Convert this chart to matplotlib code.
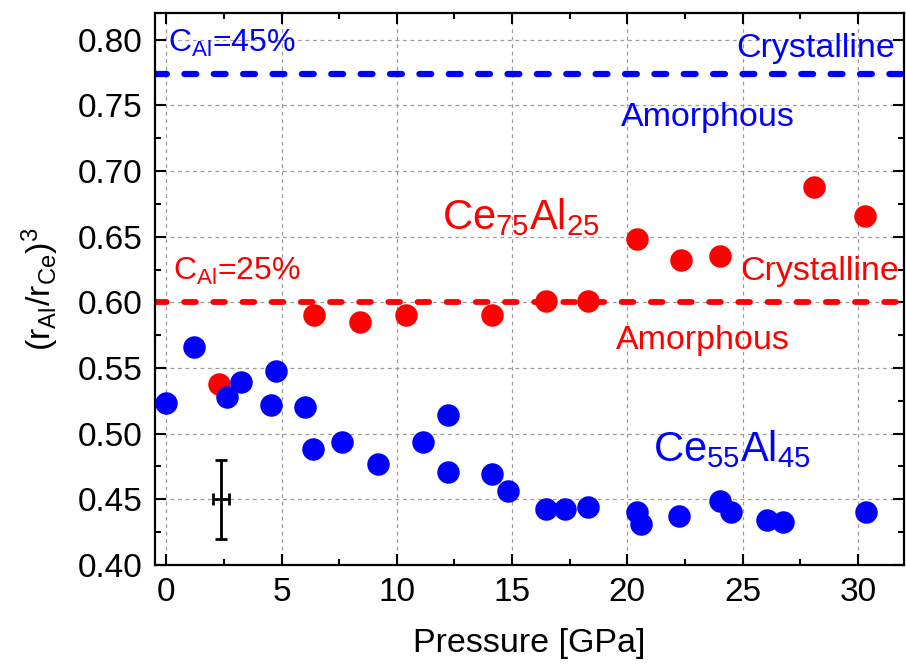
import numpy as np
import matplotlib.pyplot as plt

plt.rcParams['font.family'] = ['Liberation Sans', 'DejaVu Sans']
plt.rcParams['mathtext.fontset'] = 'custom'
plt.rcParams['mathtext.rm'] = 'Liberation Sans'
plt.rcParams['mathtext.it'] = 'Liberation Sans'

# Ce55Al45 (blue)
p_blue = [0.0, 1.21, 2.64, 3.26, 4.56, 4.75, 6.02, 6.35, 7.62, 9.20, 11.14, 12.24, 12.24,
          14.12, 14.83, 16.47, 17.28, 18.30, 20.40, 20.60, 22.23, 24.03, 24.49, 26.05,
          26.74, 30.35]
r_blue = [0.523, 0.566, 0.528, 0.539, 0.522, 0.548, 0.520, 0.488, 0.494, 0.477, 0.494,
          0.514, 0.471, 0.469, 0.456, 0.443, 0.443, 0.444, 0.440, 0.431, 0.437, 0.449,
          0.440, 0.434, 0.433, 0.440]

# Ce75Al25 (red)
p_red = [2.28, 6.40, 8.41, 10.39, 14.12, 16.47, 18.30, 20.41, 22.31, 24.00, 28.11, 30.31]
r_red = [0.538, 0.590, 0.585, 0.590, 0.590, 0.601, 0.601, 0.648, 0.632, 0.635, 0.688, 0.666]

# critical ratios
c_al45 = 0.7735
c_al25 = 0.600

# typical error bar
err_p, err_r = 2.38, 0.45
err_dp, err_dr = 0.36, 0.03

fig = plt.figure(figsize=(9.06, 6.71), dpi=100)
ax = fig.add_axes([0.1708, 0.158, 0.827, 0.822])

ax.grid(True, color='#9a9a9a', linestyle=(0, (3, 3)), linewidth=0.9, zorder=0)

ax.axhline(c_al45, color='#0000ff', lw=4.5, dashes=(1.9, 2.8), dash_capstyle='round', zorder=2)
ax.axhline(c_al25, color='#ff0000', lw=4.2, dashes=(2.0, 3.0), dash_capstyle='round', zorder=2)

ax.plot(p_red, r_red, 'o', color='#ff0000', ms=16.2, mec='none', zorder=3)
ax.plot(p_blue, r_blue, 'o', color='#0000ff', ms=16.2, mec='none', zorder=4)

ax.errorbar(err_p, err_r, xerr=err_dp, yerr=err_dr, color='black', lw=2, capsize=4,
            capthick=2, zorder=5)

ax.text(0.09, 0.7909, r'C$_{\mathrm{Al}}$=45%', color='#0000ff', fontsize=23)
ax.text(31.6, 0.7865, 'Crystalline', color='#0000ff', fontsize=24.5, ha='right')
ax.text(19.70, 0.734, 'Amorphous', color='#0000ff', fontsize=24.5)
ax.text(0.28, 0.617, r'C$_{\mathrm{Al}}$=25%', color='#ff0000', fontsize=23)
ax.text(31.8, 0.617, 'Crystalline', color='#ff0000', fontsize=24.5, ha='right')
ax.text(19.49, 0.5644, 'Amorphous', color='#ff0000', fontsize=24.5)
ax.text(11.97, 0.6558, r'Ce$_{75}$Al$_{25}$', color='#ff0000', fontsize=30)
ax.text(21.10, 0.4788, r'Ce$_{55}$Al$_{45}$', color='#0000ff', fontsize=30)

ax.set_xlim(-0.5, 32)
ax.set_ylim(0.40, 0.82)
ax.set_xticks(np.arange(0, 31, 5))
ax.set_xticks(np.arange(0, 32, 2.5), minor=True)
ax.set_yticks(np.arange(0.40, 0.801, 0.05))
ax.set_yticks(np.arange(0.40, 0.82, 0.025), minor=True)
ax.yaxis.set_major_formatter(plt.FormatStrFormatter('%.2f'))

ax.tick_params(which='both', direction='in', top=True, right=True, width=1.5,
               labelsize=24)
ax.tick_params(which='major', length=8, pad=9)
ax.tick_params(which='minor', length=4.5)
for s in ax.spines.values():
    s.set_linewidth(1.6)

ax.set_xlabel('Pressure [GPa]', fontsize=24.5, labelpad=14)
ax.set_ylabel(r'(r$_{\mathrm{Al}}$/r$_{\mathrm{Ce}}$)$^{3}$', fontsize=24.5, labelpad=12)

fig.savefig('out.png', dpi=100)
